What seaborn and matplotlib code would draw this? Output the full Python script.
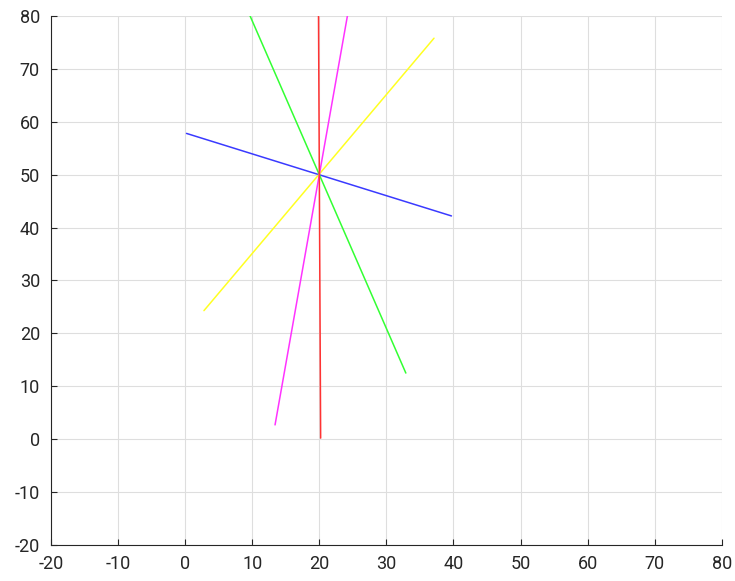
import pandas as pd
import matplotlib
matplotlib.use('Agg')
import matplotlib.pyplot as plt
import seaborn as sns

# line segments through the common point (20, 50)
line_names = ['blue', 'yellow', 'green', 'magenta', 'red']
line_colors = ['#3a3aff', '#ffff22', '#33ff33', '#ff33ff', '#ff3333']
x_start = [0.2, 2.8, 7.1, 13.4, 20.2]
y_start = [57.8, 24.3, 87.5, 2.7, 0.2]
x_end = [39.7, 37.1, 32.9, 26.6, 19.8]
y_end = [42.2, 75.8, 12.5, 97.3, 100.0]

x_ticks = list(range(-20, 81, 10))
y_ticks = list(range(-20, 81, 10))

rows = []
for name, xs, ys, xe, ye in zip(line_names, x_start, y_start, x_end, y_end):
    rows.append({'line': name, 'x': xs, 'y': ys, 'order': 0})
    rows.append({'line': name, 'x': xe, 'y': ye, 'order': 1})
df = pd.DataFrame(rows)

sns.set_style('white')
plt.rcParams['font.family'] = ['Roboto', 'DejaVu Sans']
plt.rcParams['axes.unicode_minus'] = False

fig = plt.figure(figsize=(7.35, 5.81), dpi=100)
ax = fig.add_axes([0.0694, 0.062, 0.9126, 0.9105])

sns.lineplot(data=df, x='x', y='y', hue='line', palette=dict(zip(line_names, line_colors)),
             units='line', estimator=None, sort=False, linewidth=1.1, legend=False, ax=ax)

ax.set_xlim(-20, 80)
ax.set_ylim(-20, 80)
ax.set_xticks(x_ticks)
ax.set_yticks(y_ticks)
ax.set_xlabel('')
ax.set_ylabel('')
ax.grid(True, color='#dedede', linewidth=0.8)
ax.set_axisbelow(True)
for side in ['top', 'right']:
    ax.spines[side].set_visible(False)
for side in ['left', 'bottom']:
    ax.spines[side].set_color('#262626')
    ax.spines[side].set_linewidth(0.8)
ax.tick_params(direction='in', length=4, width=0.8, color='#262626',
               labelsize=13, labelcolor='#262626', left=True, bottom=True)
ax.tick_params(axis='x', pad=7)
ax.tick_params(axis='y', pad=8)

fig.savefig('out.png', dpi=100)
